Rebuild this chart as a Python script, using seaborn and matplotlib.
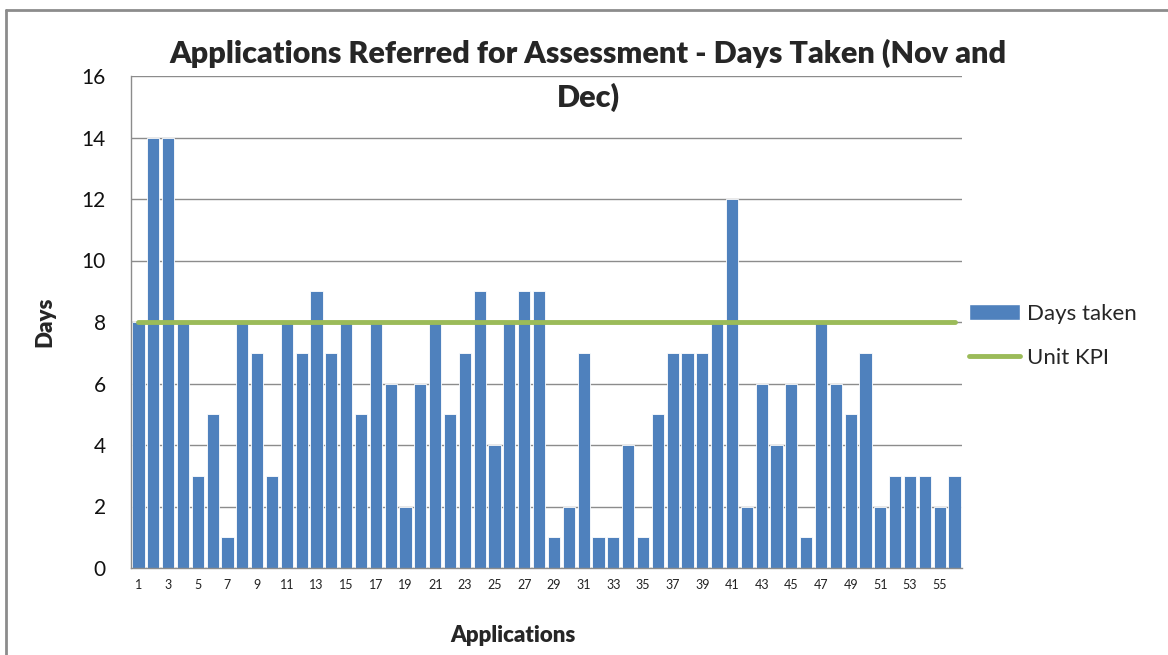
import numpy as np
import pandas as pd
import matplotlib
matplotlib.use("Agg")
import matplotlib.pyplot as plt
from matplotlib.lines import Line2D
from matplotlib.patches import Patch
import seaborn as sns

# Data
applications = list(range(1, 57))
days_taken = [8, 14, 14, 8, 3, 5, 1, 8, 7, 3,
              8, 7, 9, 7, 8, 5, 8, 6, 2, 6,
              8, 5, 7, 9, 4, 8, 9, 9, 1, 2,
              7, 1, 1, 4, 1, 5, 7, 7, 7, 8,
              12, 2, 6, 4, 6, 1, 8, 6, 5, 7,
              2, 3, 3, 3, 2, 3]
unit_kpi = [8] * len(applications)
y_ticks = list(range(0, 17, 2))

df = pd.DataFrame({"app": [str(a) for a in applications],
                   "days": days_taken,
                   "kpi": unit_kpi})
df["pos"] = np.arange(len(df))

sns.set_style("white")
plt.rcParams["font.family"] = ["Lato", "DejaVu Sans"]

BLUE = "#4F81BD"
GREEN = "#9BBB59"
GRID = "#8C8C8C"

fig = plt.figure(figsize=(11.68, 6.55), dpi=100)
ax = fig.add_axes([131 / 1168, 1 - 568 / 655, (962 - 131) / 1168, (568 - 76) / 655])

sns.barplot(data=df, x="app", y="days", order=df["app"], color=BLUE,
            width=0.82, saturation=1, edgecolor="white", linewidth=0.6, ax=ax, zorder=2)
sns.lineplot(data=df, x="pos", y="kpi", color=GREEN, linewidth=3.5, ax=ax, zorder=3,
             solid_capstyle="round")

ax.set_xlim(-0.5, len(df) - 0.5)
ax.set_ylim(0, 16)
ax.set_yticks(y_ticks)
ax.yaxis.grid(True, color=GRID, linewidth=1.0)
ax.set_axisbelow(True)

# category labels on every other bar, tick marks on boundaries
ax.set_xticks(df["pos"][::2])
ax.set_xticklabels(df["app"][::2], fontsize=9, color="#222222")
ax.set_xticks(np.arange(-0.5, len(df), 1), minor=True)
ax.tick_params(axis="x", which="major", length=0, pad=8)
ax.tick_params(axis="x", which="minor", length=5, color=GRID, direction="out")
ax.tick_params(axis="y", length=6, color=GRID, direction="out", labelsize=15, pad=12,
               labelcolor="#111111")

for side in ["top", "right"]:
    ax.spines[side].set_visible(False)
for side in ["left", "bottom"]:
    ax.spines[side].set_color(GRID)
    ax.spines[side].set_linewidth(1.0)

ax.set_xlabel("")
ax.set_ylabel("")
fig.text(45 / 1168, 1 - 322 / 655, "Days", rotation=90, fontsize=16, fontweight="heavy",
         ha="center", va="center")
fig.text(513 / 1168, 1 - 635 / 655, "Applications", fontsize=16, fontweight="heavy",
         ha="center", va="center")

fig.text(588 / 1168, 1 - 53 / 655, "Applications Referred for Assessment - Days Taken (Nov and",
         fontsize=22, fontweight="heavy", ha="center", va="center")
fig.text(588 / 1168, 1 - 97 / 655, "Dec)", fontsize=22, fontweight="heavy",
         ha="center", va="center")

handles = [Patch(facecolor=BLUE, edgecolor="white"),
           Line2D([0], [0], color=GREEN, linewidth=3.5)]
fig.legend(handles, ["Days taken", "Unit KPI"], loc="center left",
           bbox_to_anchor=(969 / 1168, 1 - 336 / 655), frameon=False, fontsize=16,
           handlelength=2.3, handleheight=0.7, handletextpad=0.3, labelspacing=1.1,
           borderpad=0, borderaxespad=0)

# chart area border (left and top visible)
fig.add_artist(Line2D([6 / 1168, 6 / 1168], [0, 1 - 10 / 655], color="#8C8C8C", linewidth=2,
                      transform=fig.transFigure))
fig.add_artist(Line2D([6 / 1168, 1], [1 - 10 / 655, 1 - 10 / 655], color="#8C8C8C", linewidth=2,
                      transform=fig.transFigure))

fig.savefig("out.png", dpi=100)
